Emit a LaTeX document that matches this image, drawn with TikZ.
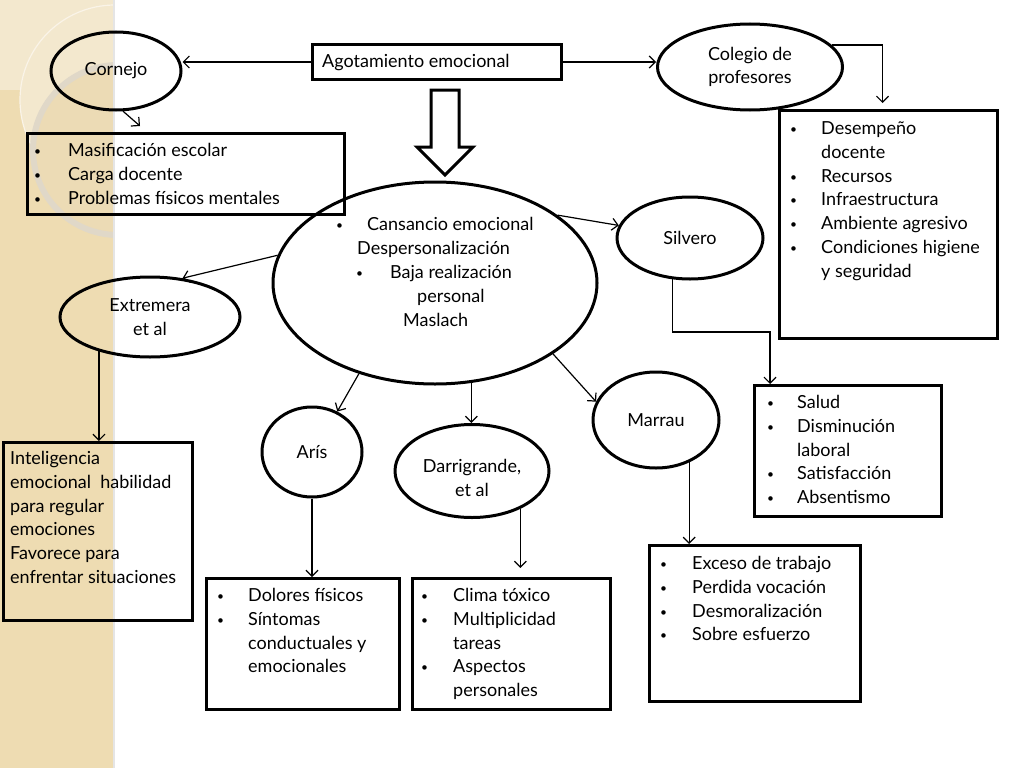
\documentclass[tikz,border=0pt]{standalone}
\usepackage{fontspec}
\setmainfont{Lato}
\usetikzlibrary{shapes.geometric,arrows.meta,calc}
\newcommand\txtf{\fontsize{18}{23.8}\selectfont}
\newcommand\bu[1][31pt]{\makebox[#1][l]{\fontsize{12}{12}\selectfont\raisebox{1pt}{•}}}
\newcommand\tl[1]{\begin{tabular}[t]{@{}l@{}}#1\end{tabular}}
\definecolor{stripc}{HTML}{EEDCB2}
\definecolor{stripl}{HTML}{F3E8CE}
\definecolor{ringc}{HTML}{E0D8C8}
\begin{document}
\begin{tikzpicture}[x=1pt,y=-1pt,
  box/.style={draw, line width=3pt, inner sep=0pt, anchor=north west},
  ell/.style={ellipse, draw, line width=3pt, inner sep=0pt, align=center, font=\txtf},
  conn/.style={line width=1.2pt, -{Straight Barb[length=6pt,width=12pt]}},
  txt/.style={inner sep=0pt, anchor=base west, font=\txtf}]
\useasboundingbox (0,0) rectangle (1024,768);
\fill[white] (0,0) rectangle (1024,768);
% decorative strip
\begin{scope}
\clip (0,0) rectangle (113,768);
\fill[stripc] (0,0) rectangle (113,768);
\fill[stripl] (0,0) rectangle (113,90);
\draw[line width=1.2pt, draw=white!70!stripc, fill=stripl] (115,100) circle (95pt);
\draw[line width=6pt, draw=ringc, fill=stripc!85!ringc] (118,150) circle (85pt);
\end{scope}
\fill[black!10] (113,0) rectangle (114.5,768);

% main nodes
\node[box, minimum width=249pt, minimum height=35pt] (ag) at (311,43) {};
\node[txt] (agT) at (322,67) {Agotamiento emocional};

\node[ell, minimum width=130pt, minimum height=78pt] (cor) at (116,71) {Cornejo};
\node[ell, minimum width=185pt, minimum height=86pt] (col) at (750,67) {Colegio de\\profesores};

\node[box, minimum width=317pt, minimum height=81pt] (mas) at (26,132) {};
\node[txt] (masT) at (34,156.5) {\tl{\bu[34pt]Masificación escolar\\\bu[34pt]Carga docente\\\bu[34pt]Problemas físicos mentales}};

\node[box, minimum width=218pt, minimum height=228pt] (des) at (778,109) {};
\node[txt] (desT) at (790,134.5) {\tl{\bu Desempeño\\\hspace*{31pt}docente\\\bu Recursos\\\bu Infraestructura\\\bu Ambiente agresivo\\\bu Condiciones higiene\\\hspace*{31pt}y seguridad}};

% block arrow
\draw[line width=3pt, fill=white, line join=miter] (431,90) -- (459,90) -- (459,147) -- (473,147) -- (445,175) -- (417,147) -- (431,147) -- cycle;

\node[ell, minimum width=324pt, minimum height=202pt] (msl) at (435,283) {};
\node[txt] (m1) at (336,230.5) {\bu Cansancio emocional};
\node[txt] (m2) at (357,254.5) {Despersonalización};
\node[txt] (m3) at (356,278.5) {\bu[34pt]Baja realización};
\node[txt] (m4) at (417,302.5) {personal};
\node[txt] (m5) at (403,326.5) {Maslach};

\node[ell, minimum width=146pt, minimum height=82pt] (sil) at (690,238) {Silvero};
\node[ell, minimum width=180pt, minimum height=80pt] (ext) at (150,317) {Extremera\\et al};
\node[ell, minimum width=126pt, minimum height=96pt] (mar) at (656,420) {Marrau};
\node[ell, minimum width=100pt, minimum height=90pt] (ari) at (312,452) {Arís};
\node[ell, minimum width=154pt, minimum height=93pt] (dar) at (472,471) {};
\node[inner sep=0pt, align=center, font=\txtf] (darT) at (472,478) {Darrigrande,\\et al};

\node[box, minimum width=187pt, minimum height=131pt] (sal) at (753,384) {};
\node[txt] (salT) at (767,408.5) {\tl{\bu[30pt]Salud\\\bu[30pt]Disminución\\\hspace*{30pt}laboral\\\bu[30pt]Satisfacción\\\bu[30pt]Absentismo}};

\node[box, minimum width=189pt, minimum height=178pt] (int) at (2,441) {};
\node[txt] (intT) at (10,464.5) {\tl{Inteligencia\\emocional\ \ habilidad\\para regular\\emociones\\Favorece para\\enfrentar situaciones}};

\node[box, minimum width=211pt, minimum height=156pt] (exc) at (648,544) {};
\node[txt] (excT) at (660,569.5) {\tl{\bu[32pt]Exceso de trabajo\\\bu[32pt]Perdida vocación\\\bu[32pt]Desmoralización\\\bu[32pt]Sobre esfuerzo}};

\node[box, minimum width=193pt, minimum height=131pt] (dol) at (205,577) {};
\node[txt] (dolT) at (217,601.5) {\tl{\bu Dolores físicos\\\bu Síntomas\\\hspace*{31pt}conductuales y\\\hspace*{31pt}emocionales}};

\node[box, minimum width=198pt, minimum height=131pt] (cli) at (411,577) {};
\node[txt] (cliT) at (421,601.5) {\tl{\bu[32pt]Clima tóxico\\\bu[32pt]Multiplicidad\\\hspace*{32pt}tareas\\\bu[32pt]Aspectos\\\hspace*{32pt}personales}};

% connectors
\coordinate (corEnd) at (140,126);
\coordinate (salIn) at (770,384);
\draw[conn] (ag.west) -- (ag.west -| cor.east);
\draw[conn] (ag.east) -- (ag.east -| col.west);
\draw[conn, shorten >=6pt] (col.15) -| ([xshift=-6pt]des.north);
\draw[conn] (cor.-80) -- (corEnd);
\draw[conn] (msl.29) -- (sil.170);
\draw[conn] (sil.-113) |- ([yshift=52pt]salIn) -- (salIn);
\draw[conn] (msl.-31) -- (mar.163);
\draw[conn] (mar.-52) -- (mar.-52 |- exc.north);
\draw[conn] (msl.-70) -- (msl.-70 |- dar.north);
\draw[conn, shorten >=9pt] (dar.-38) -- (dar.-38 |- cli.north);
\draw[conn] (msl.-130) -- (ari.58);
\draw[conn] (ari.south) -- (ari.south |- dol.north);
\draw[conn] (msl.170) -- (ext.50);
\draw[conn] (ext.-146) -- (ext.-146 |- int.north);
\end{tikzpicture}
\end{document}
